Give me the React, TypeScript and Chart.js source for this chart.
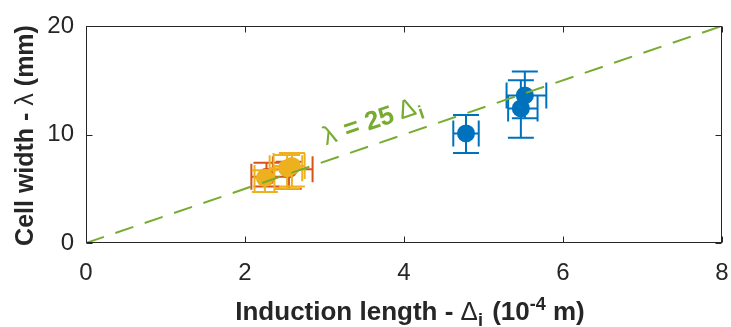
import React, { useEffect, useRef } from "react";
import { Chart, registerables } from "chart.js";

Chart.register(...registerables);

// ---- data ----
const xTickValues = [0, 2, 4, 6, 8];
const yTickValues = [0, 10, 20];

const blueX = [4.78, 5.52, 5.47];
const blueY = [10.1, 13.6, 12.4];
const blueXLo = [4.62, 5.29, 5.31];
const blueXHi = [4.94, 5.79, 5.68];
const blueYLo = [8.3, 11.5, 9.7];
const blueYHi = [11.8, 15.8, 15.0];

const redX = [2.27, 2.55];
const redY = [6.1, 6.8];
const redXLo = [2.08, 2.35];
const redXHi = [2.55, 2.85];
const redYLo = [5.2, 5.0];
const redYHi = [7.4, 7.5];

const yellowX = [2.25, 2.53, 2.59];
const yellowY = [6.0, 6.9, 7.1];
const yellowXLo = [2.12, 2.31, 2.36];
const yellowXHi = [2.37, 2.72, 2.75];
const yellowYLo = [4.7, 5.0, 5.2];
const yellowYHi = [6.7, 8.1, 8.3];

const fitX = [0, 8];
const fitY = [0, 20];

const BLUE = "#0072BD";
const RED = "#D95319";
const YELLOW = "#EDB120";
const GREEN = "#77AC30";
const AXIS = "#262626";
const FONT = '"Liberation Sans", Arial, Helvetica, sans-serif';

function pts(xs: number[], ys: number[]) {
  return xs.map((x, i) => ({ x, y: ys[i] }));
}

const errorPlugin = {
  id: "errbars",
  beforeDatasetDraw(chart: any, args: any) {
    const ds = chart.data.datasets[args.index];
    if (!ds.err) return;
    const ctx = chart.ctx;
    const sx = chart.scales.x;
    const sy = chart.scales.y;
    const cap = 13;
    ctx.save();
    ctx.strokeStyle = ds.backgroundColor;
    ctx.lineWidth = 2;
    ctx.lineCap = "butt";
    const e = ds.err;
    ds.data.forEach((p: any, i: number) => {
      const px = sx.getPixelForValue(p.x);
      const py = sy.getPixelForValue(p.y);
      const x0 = sx.getPixelForValue(e.xLo[i]);
      const x1 = sx.getPixelForValue(e.xHi[i]);
      const y0 = sy.getPixelForValue(e.yLo[i]);
      const y1 = sy.getPixelForValue(e.yHi[i]);
      ctx.beginPath();
      ctx.moveTo(px, y0);
      ctx.lineTo(px, y1);
      ctx.moveTo(px - cap, y0);
      ctx.lineTo(px + cap, y0);
      ctx.moveTo(px - cap, y1);
      ctx.lineTo(px + cap, y1);
      ctx.moveTo(x0, py);
      ctx.lineTo(x1, py);
      ctx.moveTo(x0, py - cap);
      ctx.lineTo(x0, py + cap);
      ctx.moveTo(x1, py - cap);
      ctx.lineTo(x1, py + cap);
      ctx.stroke();
    });
    ctx.restore();
  },
};

function drawSegments(
  ctx: CanvasRenderingContext2D,
  segs: { t: string; font: string; dy?: number; dx?: number }[],
  x: number,
  y: number,
  align: "center" | "left"
) {
  let total = 0;
  const widths = segs.map((s) => {
    ctx.font = s.font;
    const w = ctx.measureText(s.t).width + (s.dx || 0);
    total += w;
    return w;
  });
  let cx = align === "center" ? x - total / 2 : x;
  ctx.textAlign = "left";
  ctx.textBaseline = "alphabetic";
  segs.forEach((s, i) => {
    ctx.font = s.font;
    ctx.fillText(s.t, cx + (s.dx || 0), y + (s.dy || 0));
    cx += widths[i];
  });
}

const decorPlugin = {
  id: "decor",
  afterDraw(chart: any) {
    const ctx: CanvasRenderingContext2D = chart.ctx;
    const a = chart.chartArea;
    const sx = chart.scales.x;
    const sy = chart.scales.y;
    ctx.save();
    ctx.strokeStyle = AXIS;
    ctx.lineWidth = 1;
    const L = Math.round(a.left) + 0.5;
    const R = Math.round(a.right) - 0.5;
    const T = Math.round(a.top) + 0.5;
    const B = Math.round(a.bottom) - 0.5;
    ctx.strokeRect(L, T, R - L, B - T);
    const tl = 6;
    ctx.beginPath();
    xTickValues.forEach((v) => {
      const px = Math.round(sx.getPixelForValue(v)) + 0.5;
      ctx.moveTo(px, B);
      ctx.lineTo(px, B - tl);
      ctx.moveTo(px, T);
      ctx.lineTo(px, T + tl);
    });
    yTickValues.forEach((v) => {
      const py = Math.round(sy.getPixelForValue(v)) + 0.5;
      ctx.moveTo(L, py);
      ctx.lineTo(L + tl, py);
      ctx.moveTo(R, py);
      ctx.lineTo(R - tl, py);
    });
    ctx.stroke();

    ctx.fillStyle = AXIS;
    const bold = `bold 26px ${FONT}`;
    const norm = `26px ${FONT}`;
    const small = `bold 18px ${FONT}`;
    drawSegments(
      ctx,
      [
        { t: "Induction length - ", font: bold },
        { t: "Δ", font: norm },
        { t: "i", font: small, dy: 6 },
        { t: " (10", font: bold, dx: 2 },
        { t: "-4", font: small, dy: -10 },
        { t: " m)", font: bold },
      ],
      (a.left + a.right) / 2 + 6,
      320,
      "center"
    );
    ctx.save();
    ctx.translate(33, (a.top + a.bottom) / 2 + 1);
    ctx.rotate(-Math.PI / 2);
    drawSegments(
      ctx,
      [
        { t: "Cell width - ", font: `bold 25px ${FONT}` },
        { t: "λ", font: `25px ${FONT}` },
        { t: " (mm)", font: `bold 25px ${FONT}` },
      ],
      0,
      0,
      "center"
    );
    ctx.restore();

    const p0x = sx.getPixelForValue(fitX[0]);
    const p0y = sy.getPixelForValue(fitY[0]);
    const p1x = sx.getPixelForValue(fitX[1]);
    const p1y = sy.getPixelForValue(fitY[1]);
    const ang = Math.atan2(p1y - p0y, p1x - p0x);
    const t = 0.385;
    const ax = p0x + (p1x - p0x) * t;
    const ay = p0y + (p1y - p0y) * t;
    ctx.save();
    ctx.translate(ax, ay);
    ctx.rotate(ang);
    ctx.fillStyle = GREEN;
    drawSegments(
      ctx,
      [
        { t: "λ", font: `26px ${FONT}` },
        { t: " = 25", font: `bold 26px ${FONT}`, dx: 2 },
        { t: "Δ", font: `26px ${FONT}`, dx: 6 },
        { t: "i", font: `bold 19px ${FONT}`, dy: 6, dx: 1 },
      ],
      0,
      -15,
      "left"
    );
    ctx.restore();
    ctx.restore();
  },
};

export default function App() {
  const ref = useRef<HTMLCanvasElement | null>(null);
  useEffect(() => {
    document.body.style.margin = "0";
    if (!ref.current) return;
    const chart = new Chart(ref.current, {
      type: "scatter",
      data: {
        datasets: [
          {
            type: "line",
            data: pts(fitX, fitY),
            borderColor: GREEN,
            borderWidth: 2,
            borderDash: [19, 12],
            pointRadius: 0,
            fill: false,
          } as any,
          {
            data: pts(blueX, blueY),
            backgroundColor: BLUE,
            borderWidth: 0,
            pointRadius: 9,
            err: { xLo: blueXLo, xHi: blueXHi, yLo: blueYLo, yHi: blueYHi },
          } as any,
          {
            data: pts(yellowX, yellowY),
            backgroundColor: YELLOW,
            borderWidth: 0,
            pointRadius: 9,
            err: { xLo: yellowXLo, xHi: yellowXHi, yLo: yellowYLo, yHi: yellowYHi },
          } as any,
          {
            data: pts(redX, redY),
            backgroundColor: RED,
            borderWidth: 0,
            pointRadius: 9,
            err: { xLo: redXLo, xHi: redXHi, yLo: redYLo, yHi: redYHi },
          } as any,
        ],
      },
      options: {
        responsive: false,
        animation: false,
        layout: { padding: { top: 26, right: 8, left: 0, bottom: 0 } },
        plugins: { legend: { display: false }, tooltip: { enabled: false } },
        scales: {
          x: {
            type: "linear",
            min: 0,
            max: 8,
            afterBuildTicks: (s: any) => {
              s.ticks = xTickValues.map((v) => ({ value: v }));
            },
            afterFit: (s: any) => {
              s.height = 84;
              s.paddingLeft = 0;
              s.paddingRight = 0;
            },
            grid: { display: false, drawTicks: false },
            border: { display: false },
            ticks: {
              padding: 16,
              color: AXIS,
              font: { family: FONT, size: 24 },
            },
          },
          y: {
            type: "linear",
            min: 0,
            max: 20,
            afterBuildTicks: (s: any) => {
              s.ticks = yTickValues.map((v) => ({ value: v }));
            },
            afterFit: (s: any) => {
              s.width = 86;
              s.paddingTop = 0;
              s.paddingBottom = 0;
            },
            grid: { display: false, drawTicks: false },
            border: { display: false },
            ticks: {
              padding: 12,
              color: AXIS,
              font: { family: FONT, size: 24 },
            },
          },
        },
      },
      plugins: [errorPlugin, decorPlugin],
    });
    return () => chart.destroy();
  }, []);
  return (
    <div style={{ position: "absolute", left: 0, top: 0 }}>
      <canvas ref={ref} width={731} height={327} style={{ display: "block" }} />
    </div>
  );
}
